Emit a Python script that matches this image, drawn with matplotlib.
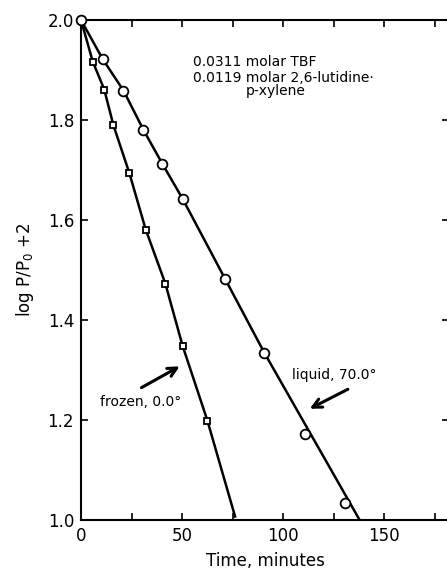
import matplotlib
matplotlib.use('Agg')
import matplotlib.pyplot as plt

# liquid, 70.0 deg (circles)
liquid_t = [0, 10.7, 21.0, 30.9, 40.3, 50.3, 71.3, 90.6, 111.0, 130.4]
liquid_y = [2.0, 1.922, 1.859, 1.780, 1.712, 1.642, 1.482, 1.335, 1.173, 1.035]
liquid_line_t = [0, 10.7, 21.0, 30.9, 40.3, 50.3, 71.3, 90.6, 137.8]
liquid_line_y = [2.0, 1.922, 1.859, 1.780, 1.712, 1.642, 1.482, 1.335, 1.0]

# frozen, 0.0 deg (squares)
frozen_t = [0, 5.8, 11.5, 16.0, 23.9, 32.0, 41.7, 50.2, 62.5]
frozen_y = [2.0, 1.917, 1.861, 1.790, 1.694, 1.581, 1.473, 1.349, 1.199]
frozen_line_t = frozen_t + [76.2]
frozen_line_y = frozen_y + [1.007]

fig = plt.figure(figsize=(4.47, 5.76), dpi=100)
ax = fig.add_axes([81 / 447, 56 / 576, 368 / 447, 500 / 576])

ax.plot(liquid_line_t, liquid_line_y, color='black', lw=1.8, zorder=2)
ax.plot(frozen_line_t, frozen_line_y, color='black', lw=1.8, zorder=2)
ax.plot(liquid_t, liquid_y, 'o', ms=7, mfc='white', mec='black', mew=1.3,
        zorder=3, clip_on=False)
ax.plot(frozen_t[1:], frozen_y[1:], 's', ms=5, mfc='white', mec='black', mew=1.3, zorder=3)

ax.set_xlim(0, 182)
ax.set_ylim(1.0, 2.0)
ax.set_xticks([0, 50, 100, 150])
ax.set_xticks([25, 75, 125, 175], minor=True)
ax.set_yticks([1.0, 1.2, 1.4, 1.6, 1.8, 2.0])
ax.set_yticklabels(['1.0', '1.2', '1.4', '1.6', '1.8', '2.0'])
ax.tick_params(which='both', direction='in', top=True, right=True,
               length=5, width=1.2, labelsize=12, pad=5)
for s in ax.spines.values():
    s.set_linewidth(1.5)

ax.set_xlabel('Time, minutes', fontsize=12, labelpad=5)
ax.set_ylabel('log P/P$_0$ +2', fontsize=12, labelpad=8)

ax.text(55.4, 1.915, '0.0311 molar TBF', fontsize=10, va='center')
ax.text(55.4, 1.884, '0.0119 molar 2,6-lutidine·', fontsize=10, va='center')
ax.text(96.3, 1.858, 'p-xylene', fontsize=10, va='center', ha='center')

ax.text(9.4, 1.236, 'frozen, 0.0°', fontsize=10, va='center')
ax.annotate('', xy=(50.0, 1.31), xytext=(28.7, 1.262),
            arrowprops=dict(arrowstyle='->', lw=2.2, color='black',
                            mutation_scale=16))
ax.text(104.5, 1.29, 'liquid, 70.0°', fontsize=10, va='center')
ax.annotate('', xy=(111.9, 1.22), xytext=(133.2, 1.264),
            arrowprops=dict(arrowstyle='->', lw=2.2, color='black',
                            mutation_scale=16))

plt.savefig('out.png', dpi=100)
plt.close()
